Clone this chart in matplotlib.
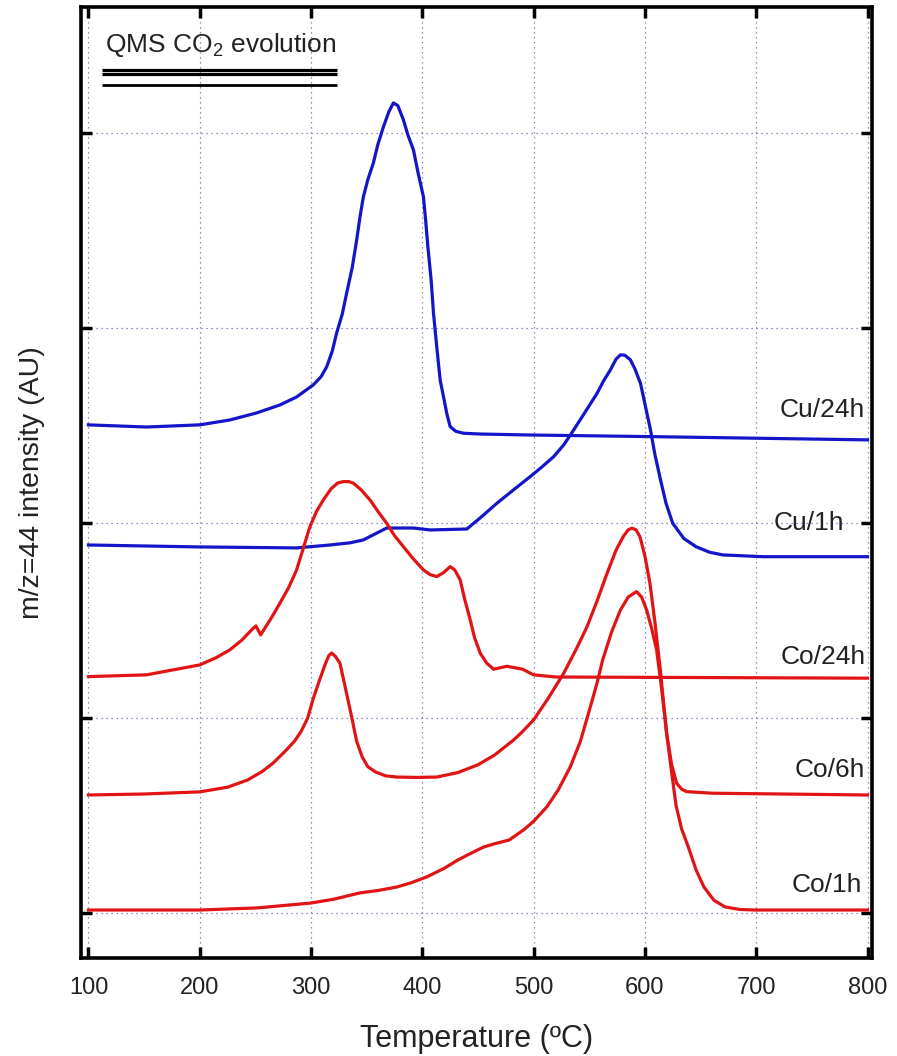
import matplotlib
matplotlib.use('Agg')
import matplotlib.pyplot as plt
import numpy as np

plt.rcParams['font.family'] = ['Liberation Sans', 'DejaVu Sans']

# m/z=44 traces, temperature (C) and stacked intensity (AU, one y-tick per unit)
cu24_t = [100, 152, 200, 227, 251, 272, 287, 302, 309, 314, 319, 323, 328, 332, 337, 341, 344,
          347, 351, 356, 360, 365, 370, 374, 378, 383, 387, 392, 396, 401, 403, 405, 408, 410,
          413, 416, 419, 422, 425, 430, 437, 452, 497, 602, 706, 800]
cu24_y = [2.503, 2.492, 2.503, 2.528, 2.564, 2.605, 2.646, 2.708, 2.750, 2.800, 2.880, 2.974,
          3.070, 3.179, 3.310, 3.451, 3.570, 3.672, 3.760, 3.846, 3.940, 4.031, 4.110, 4.154,
          4.140, 4.067, 3.990, 3.913, 3.800, 3.672, 3.550, 3.415, 3.240, 3.077, 2.900, 2.733,
          2.648, 2.560, 2.494, 2.470, 2.460, 2.456, 2.451, 2.443, 2.434, 2.426]

cu1_t = [100, 200, 287, 317, 335, 347, 358, 368, 392, 407, 440, 452, 467, 482, 497, 508, 518,
         527, 536, 547, 557, 563, 569, 574, 578, 582, 587, 591, 596, 600, 605, 609, 614, 619,
         625, 635, 646, 658, 670, 706, 800]
cu1_y = [1.887, 1.877, 1.872, 1.887, 1.898, 1.913, 1.945, 1.974, 1.974, 1.964, 1.969, 2.026,
         2.101, 2.170, 2.238, 2.290, 2.340, 2.400, 2.477, 2.575, 2.665, 2.730, 2.785, 2.840,
         2.862, 2.860, 2.836, 2.790, 2.716, 2.610, 2.477, 2.350, 2.221, 2.100, 1.998, 1.920,
         1.878, 1.850, 1.836, 1.827, 1.827]

co24_t = [100, 152, 200, 215, 227, 238, 248, 250.5, 254.7, 264, 272, 280, 287, 293, 299, 305,
          311, 318, 324, 329, 334, 338, 345, 353, 360, 368, 375, 383, 392, 401, 407, 413, 419,
          425, 429, 434, 438, 443, 447, 452, 458, 464, 476, 490, 500, 520, 800]
co24_y = [1.212, 1.221, 1.272, 1.310, 1.349, 1.400, 1.460, 1.472, 1.426, 1.510, 1.588, 1.670,
          1.759, 1.870, 1.981, 2.060, 2.118, 2.175, 2.205, 2.212, 2.212, 2.204, 2.170, 2.118,
          2.060, 1.998, 1.935, 1.878, 1.815, 1.759, 1.735, 1.725, 1.745, 1.776, 1.760, 1.708,
          1.610, 1.503, 1.410, 1.332, 1.280, 1.250, 1.265, 1.250, 1.221, 1.210, 1.204]

co6_t = [100, 150, 200, 225, 243, 256, 266, 276, 285, 291, 297, 302, 308, 313, 316, 318.5, 322,
         326, 331, 336.5, 341, 346, 351, 358, 367, 377, 395, 413, 432, 450, 465, 482, 490, 500,
         513, 527, 538, 548, 557, 566, 574, 580.5, 585, 588.3, 592, 595.5, 600, 604.5, 609,
         613.5, 619.5, 624, 628.5, 633, 637.5, 661, 800]
co6_y = [0.605, 0.610, 0.621, 0.645, 0.682, 0.725, 0.769, 0.825, 0.880, 0.930, 1.000, 1.100,
         1.200, 1.280, 1.320, 1.333, 1.315, 1.280, 1.150, 1.005, 0.880, 0.800, 0.750, 0.723,
         0.703, 0.697, 0.695, 0.697, 0.720, 0.760, 0.810, 0.887, 0.930, 0.990, 1.100, 1.229,
         1.350, 1.468, 1.600, 1.742, 1.860, 1.930, 1.965, 1.973, 1.965, 1.930, 1.830, 1.691,
         1.490, 1.263, 0.921, 0.760, 0.665, 0.635, 0.622, 0.614, 0.605]

co1_t = [100, 200, 252, 300, 320, 344, 360, 377, 390, 404, 420, 432, 445, 455, 465, 478, 491,
         500, 512, 522, 533, 542, 551, 557, 562, 570, 578, 585, 592.5, 597, 601.5, 606, 610.5,
         615, 619.5, 624, 628, 633, 639, 646, 653, 662, 672, 685, 699, 800]
co1_y = [0.015, 0.015, 0.026, 0.051, 0.070, 0.103, 0.115, 0.133, 0.155, 0.185, 0.230, 0.272,
         0.310, 0.338, 0.355, 0.374, 0.426, 0.470, 0.545, 0.630, 0.750, 0.880, 1.058, 1.180,
         1.297, 1.440, 1.554, 1.620, 1.648, 1.620, 1.554, 1.460, 1.349, 1.150, 0.921, 0.720,
         0.550, 0.430, 0.338, 0.220, 0.133, 0.065, 0.031, 0.018, 0.015, 0.015]

blue = '#1414c8'
red = '#e01414'

fig = plt.figure(figsize=(8.97, 10.56), dpi=100)
ax = fig.add_axes([0.0903, 0.0928, 0.8818, 0.9006])

for t, y, c in [(cu24_t, cu24_y, blue), (cu1_t, cu1_y, blue),
                (co24_t, co24_y, red), (co6_t, co6_y, red), (co1_t, co1_y, red)]:
    ax.plot(t, y, color=c, lw=2.3, solid_joinstyle='round')

ax.set_xlim(93.3, 804)
ax.set_ylim(-0.231, 4.646)
ax.set_xticks(np.arange(100, 801, 100))
ax.set_yticks([0, 1, 2, 3, 4])
ax.set_yticklabels([])
ax.grid(True, color='#6c6cb4', linestyle=(0, (1, 3)), lw=0.9)
ax.tick_params(direction='in', length=8, width=2.5, top=True, right=True,
               labelsize=17, pad=14, labelcolor='#222222')
for s in ax.spines.values():
    s.set_linewidth(2.6)

ax.set_xlabel('Temperature (ºC)', fontsize=22, labelpad=18, color='#222222')
ax.set_ylabel('m/z=44 intensity (AU)', fontsize=20.5, labelpad=12, color='#222222')

# curve labels
lab_kw = dict(ha='right', va='center', fontsize=19, color='#222222')
ax.text(798, 2.58, 'Cu/24h', **lab_kw)
ax.text(779, 2.00, 'Cu/1h', **lab_kw)
ax.text(798, 1.313, 'Co/24h', **lab_kw)
ax.text(798, 0.733, 'Co/6h', **lab_kw)
ax.text(795, 0.144, 'Co/1h', **lab_kw)

# title box with underline rules
ax.text(0.0303, 0.960, r'QMS CO$\mathregular{_2}$ evolution', transform=ax.transAxes,
        ha='left', va='center', fontsize=19, color='#222222')
ax.plot([0.0265, 0.3236], [0.9338, 0.9338], transform=ax.transAxes, color='black', lw=2.3,
        solid_capstyle='butt')
ax.plot([0.0265, 0.3236], [0.9295, 0.9295], transform=ax.transAxes, color='black', lw=2.3,
        solid_capstyle='butt')
ax.plot([0.0265, 0.3236], [0.918, 0.918], transform=ax.transAxes, color='black', lw=2.0,
        solid_capstyle='butt')

fig.savefig('out.png', dpi=100)
